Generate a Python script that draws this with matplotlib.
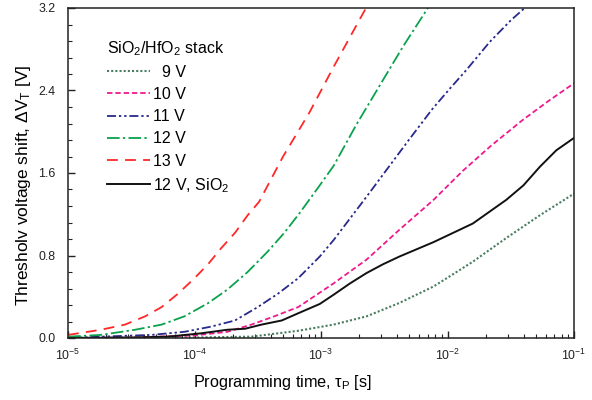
import matplotlib
matplotlib.use("Agg")
import matplotlib.pyplot as plt
import numpy as np
from matplotlib.ticker import LogLocator, MultipleLocator, NullFormatter

plt.rcParams["font.family"] = ["Liberation Sans", "DejaVu Sans"]
plt.rcParams["mathtext.fontset"] = "custom"
plt.rcParams["mathtext.rm"] = "Liberation Sans"
plt.rcParams["mathtext.it"] = "Liberation Sans:italic"
plt.rcParams["mathtext.default"] = "regular"

# log10 of programming time [s] and threshold voltage shift [V]
logt_9v = [-5.0, -4.0, -3.55, -3.18, -2.90, -2.64, -2.38, -2.11, -1.98, -1.80, -1.535, -1.27, -1.0]
dvt_9v = [0.0, 0.005, 0.013, 0.07, 0.13, 0.21, 0.34, 0.50, 0.60, 0.74, 0.97, 1.19, 1.40]

logt_10v = [-5.0, -4.5, -4.0, -3.74, -3.55, -3.37, -3.18, -2.90, -2.64, -2.38, -2.11, -1.88, -1.66, -1.41, -1.20, -1.0]
dvt_10v = [0.0, 0.005, 0.025, 0.06, 0.13, 0.21, 0.30, 0.53, 0.76, 1.05, 1.34, 1.62, 1.86, 2.11, 2.30, 2.47]

logt_11v = [-5.0, -4.74, -4.34, -4.08, -3.87, -3.68, -3.50, -3.34, -3.18, -3.01, -2.90, -2.77, -2.64,
            -2.47, -2.30, -2.12, -1.98, -1.85, -1.667, -1.50, -1.39, -1.30]
dvt_11v = [0.0, 0.013, 0.03, 0.06, 0.11, 0.17, 0.30, 0.43, 0.58, 0.79, 0.95, 1.16, 1.37,
           1.65, 1.93, 2.22, 2.42, 2.60, 2.87, 3.08, 3.20, 3.30]

logt_12v = [-5.0, -4.74, -4.47, -4.26, -4.08, -3.89, -3.74, -3.58, -3.42, -3.29, -3.17, -3.01, -2.90,
            -2.72, -2.54, -2.35, -2.155, -2.10]
dvt_12v = [0.013, 0.03, 0.08, 0.13, 0.21, 0.34, 0.47, 0.64, 0.84, 1.02, 1.21, 1.48, 1.67,
           2.07, 2.44, 2.83, 3.20, 3.30]

logt_13v = [-5.0, -4.74, -4.55, -4.39, -4.26, -4.13, -4.0, -3.89, -3.79, -3.68, -3.58, -3.49, -3.30,
            -3.09, -2.90, -2.667, -2.62]
dvt_13v = [0.03, 0.08, 0.13, 0.21, 0.30, 0.43, 0.58, 0.72, 0.87, 1.02, 1.19, 1.32, 1.76,
           2.19, 2.63, 3.15, 3.25]

logt_sio2 = [-5.0, -4.5, -4.21, -3.95, -3.74, -3.60, -3.47, -3.31, -3.18, -3.01, -2.90, -2.77, -2.64,
             -2.51, -2.38, -2.11, -1.80, -1.535, -1.40, -1.27, -1.14, -1.0]
dvt_sio2 = [0.0, 0.005, 0.013, 0.045, 0.08, 0.09, 0.13, 0.17, 0.24, 0.33, 0.42, 0.53, 0.63,
            0.715, 0.79, 0.93, 1.11, 1.34, 1.48, 1.66, 1.82, 1.94]

labels = ["  9 V", "10 V", "11 V", "12 V", "13 V", "12 V, SiO$_2$"]

series = [
    (logt_9v, dvt_9v, "#4a7d60", (0, (1, 1)), 1.5),
    (logt_10v, dvt_10v, "#ee1a8c", (0, (3, 1.6)), 1.3),
    (logt_11v, dvt_11v, "#28298a", (0, (5, 1.6, 1.3, 1.6, 1.3, 1.6)), 1.3),
    (logt_12v, dvt_12v, "#0aa24c", (0, (7, 1.8, 1.3, 1.8)), 1.3),
    (logt_13v, dvt_13v, "#ff2828", (0, (6, 4)), 1.3),
    (logt_sio2, dvt_sio2, "#111111", "-", 1.4),
]

fig = plt.figure(figsize=(5.92, 4.0), dpi=100)
ax = fig.add_axes([0.1149, 0.155, 0.8547, 0.825])

for (lt, v, color, ls, lw), label in zip(series, labels):
    t = 10.0 ** np.array(lt)
    ax.plot(t, v, color=color, linestyle=ls, linewidth=lw, label=label)

ax.set_xscale("log")
ax.set_xlim(1e-5, 1e-1)
ax.set_ylim(0.0, 3.2)
ax.xaxis.set_major_locator(LogLocator(base=10, numticks=10))
ax.xaxis.set_minor_locator(LogLocator(base=10, subs=np.arange(2, 10), numticks=20))
ax.xaxis.set_minor_formatter(NullFormatter())
ax.yaxis.set_major_locator(MultipleLocator(0.8))
ax.yaxis.set_minor_locator(MultipleLocator(0.16))
ax.yaxis.set_major_formatter(plt.FuncFormatter(lambda v, p: f"{v:.1f}"))

ax.tick_params(which="both", direction="in", top=False, right=False, labelsize=8.9, colors="#222222")
ax.tick_params(which="major", length=5, width=1.0)
ax.tick_params(which="minor", length=3, width=0.8)
ax.tick_params(axis="x", which="major", pad=7)
ax.tick_params(axis="y", which="major", pad=9)
for s in ax.spines.values():
    s.set_linewidth(1.1)
    s.set_color("#222222")

ax.set_xlabel(r"Programming time, $\tau_{\rm P}$ [s]", fontsize=11.7)
ax.set_ylabel(r"Thresholv voltage shift, ΔV$_{\rm T}$ [V]", fontsize=12.5)
ax.xaxis.set_label_coords(0.423, -0.105)
ax.yaxis.set_label_coords(-0.069, 0.464)

leg = ax.legend(
    loc="upper left",
    bbox_to_anchor=(0.055, 0.94),
    frameon=False,
    title="SiO$_2$/HfO$_2$ stack",
    fontsize=11.5,
    title_fontsize=11.5,
    handlelength=2.7,
    handletextpad=0.2,
    labelspacing=0.45,
    borderpad=0.2,
)
leg._legend_box.align = "left"

fig.savefig("out.png", dpi=100)
